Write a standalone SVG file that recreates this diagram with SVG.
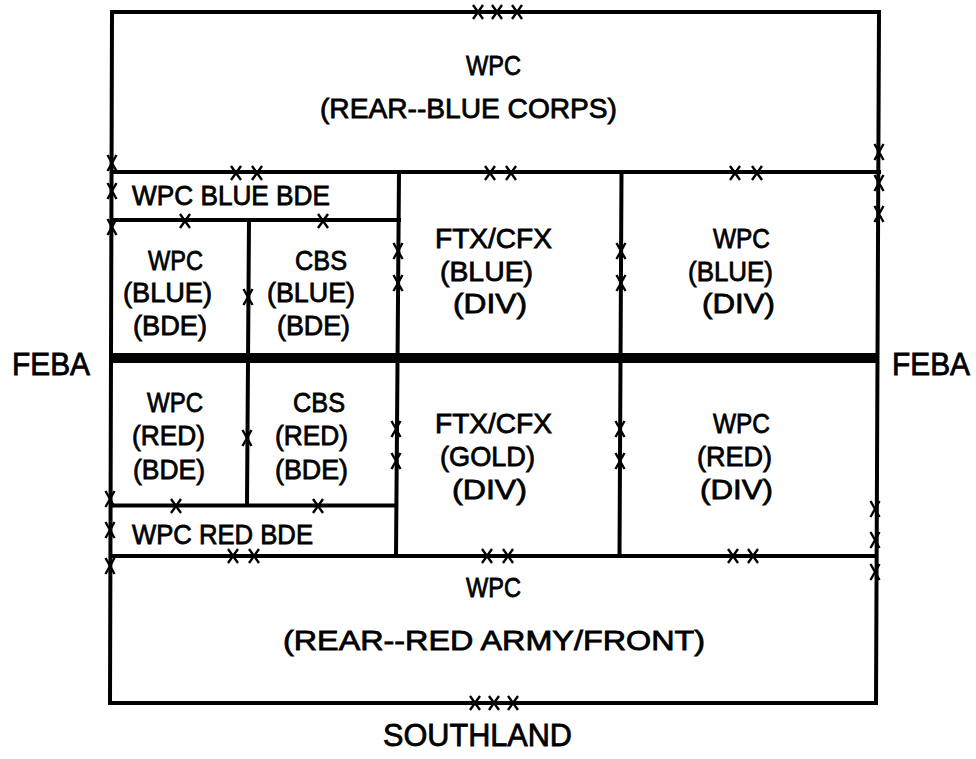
<svg xmlns="http://www.w3.org/2000/svg" xmlns:xlink="http://www.w3.org/1999/xlink" width="976" height="759" viewBox="0 0 976 759">
<style>
.ln{stroke:#000;stroke-width:4;fill:none;stroke-linecap:square}
.feba{stroke:#000;stroke-width:10;fill:none}
.mk{stroke:#000;stroke-width:2.4;fill:none}
text{font-family:"Liberation Sans",Arial,sans-serif;font-size:28px;fill:#000;stroke:#000;stroke-width:0.8}
.big{font-size:32px}
</style>
<defs>
<path id="xh" class="mk" d="M-5,-7 L5,7 M5,-7 L-5,7"/>
<path id="xv" class="mk" d="M-4.5,-8 L4.5,8 M4.5,-8 L-4.5,8"/>
</defs>
<rect width="976" height="759" fill="#fff"/>
<g id="lines">
<path class="ln" d="M112,12 L879,12 L876,703 L110,703 Z"/>
<path class="ln" d="M112,172 L879,172"/>
<path class="ln" d="M112,220 L399,220"/>
<path class="ln" d="M399,172 L396,556"/>
<path class="ln" d="M249,220 L247,505"/>
<path class="ln" d="M621.5,172 L619.5,556"/>
<path class="ln" d="M111,505.5 L396,505.5"/>
<path class="ln" d="M111,556 L876,556"/>
<path class="feba" d="M112,358 L877,358"/>
</g>
<g id="marks">
<use xlink:href="#xh" x="478" y="12"/><use xlink:href="#xh" x="497" y="12"/><use xlink:href="#xh" x="517" y="12"/>
<use xlink:href="#xh" x="236" y="173"/><use xlink:href="#xh" x="257" y="173"/>
<use xlink:href="#xh" x="490" y="173"/><use xlink:href="#xh" x="511" y="173"/>
<use xlink:href="#xh" x="735" y="173"/><use xlink:href="#xh" x="757" y="173"/>
<use xlink:href="#xh" x="185" y="221"/><use xlink:href="#xh" x="323" y="221"/>
<use xlink:href="#xh" x="176" y="506"/><use xlink:href="#xh" x="318" y="506"/>
<use xlink:href="#xh" x="233" y="556"/><use xlink:href="#xh" x="254" y="556"/>
<use xlink:href="#xh" x="487" y="556"/><use xlink:href="#xh" x="508" y="556"/>
<use xlink:href="#xh" x="733" y="556"/><use xlink:href="#xh" x="753" y="556"/>
<use xlink:href="#xh" x="475" y="703"/><use xlink:href="#xh" x="494" y="703"/><use xlink:href="#xh" x="513" y="703"/>
<use xlink:href="#xv" x="112" y="163"/><use xlink:href="#xv" x="112" y="191"/><use xlink:href="#xv" x="112" y="227"/>
<use xlink:href="#xv" x="110" y="499"/><use xlink:href="#xv" x="110" y="530"/><use xlink:href="#xv" x="110" y="566"/>
<use xlink:href="#xv" x="879" y="152"/><use xlink:href="#xv" x="879" y="183"/><use xlink:href="#xv" x="879" y="214"/>
<use xlink:href="#xv" x="875" y="509"/><use xlink:href="#xv" x="875" y="540"/><use xlink:href="#xv" x="875" y="572"/>
<use xlink:href="#xv" x="248" y="297"/><use xlink:href="#xv" x="247" y="438"/>
<use xlink:href="#xv" x="398" y="251"/><use xlink:href="#xv" x="398" y="283"/>
<use xlink:href="#xv" x="396" y="429"/><use xlink:href="#xv" x="396" y="461"/>
<use xlink:href="#xv" x="621" y="251"/><use xlink:href="#xv" x="621" y="283"/>
<use xlink:href="#xv" x="620" y="429"/><use xlink:href="#xv" x="620" y="461"/>
</g>
<g id="rear-blue-corps">
<text x="466" y="75" textLength="55" lengthAdjust="spacingAndGlyphs">WPC</text>
<text x="320" y="118" textLength="297" lengthAdjust="spacingAndGlyphs">(REAR--BLUE CORPS)</text>
</g>
<g id="wpc-blue-bde-strip">
<text x="132" y="205" textLength="198" lengthAdjust="spacingAndGlyphs">WPC BLUE BDE</text>
</g>
<g id="wpc-blue-bde">
<text x="148" y="270" textLength="55" lengthAdjust="spacingAndGlyphs">WPC</text>
<text x="123" y="302" textLength="89" lengthAdjust="spacingAndGlyphs">(BLUE)</text>
<text x="133" y="335" textLength="74" lengthAdjust="spacingAndGlyphs">(BDE)</text>
</g>
<g id="cbs-blue-bde">
<text x="295" y="270" textLength="52" lengthAdjust="spacingAndGlyphs">CBS</text>
<text x="267" y="302" textLength="88" lengthAdjust="spacingAndGlyphs">(BLUE)</text>
<text x="277" y="335" textLength="73" lengthAdjust="spacingAndGlyphs">(BDE)</text>
</g>
<g id="ftx-blue-div">
<text x="435" y="248" textLength="117" lengthAdjust="spacingAndGlyphs">FTX/CFX</text>
<text x="440" y="281" textLength="93" lengthAdjust="spacingAndGlyphs">(BLUE)</text>
<text x="453" y="313" textLength="74" lengthAdjust="spacingAndGlyphs">(DIV)</text>
</g>
<g id="wpc-blue-div">
<text x="713" y="248" textLength="57" lengthAdjust="spacingAndGlyphs">WPC</text>
<text x="688" y="281" textLength="85" lengthAdjust="spacingAndGlyphs">(BLUE)</text>
<text x="702" y="313" textLength="73" lengthAdjust="spacingAndGlyphs">(DIV)</text>
</g>
<g id="feba">
<text class="big" x="12" y="375" textLength="78" lengthAdjust="spacingAndGlyphs">FEBA</text>
<text class="big" x="892" y="375" textLength="78" lengthAdjust="spacingAndGlyphs">FEBA</text>
</g>
<g id="wpc-red-bde">
<text x="147" y="412" textLength="56" lengthAdjust="spacingAndGlyphs">WPC</text>
<text x="132" y="445" textLength="73" lengthAdjust="spacingAndGlyphs">(RED)</text>
<text x="133" y="479" textLength="72" lengthAdjust="spacingAndGlyphs">(BDE)</text>
</g>
<g id="cbs-red-bde">
<text x="293" y="412" textLength="52" lengthAdjust="spacingAndGlyphs">CBS</text>
<text x="275" y="445" textLength="73" lengthAdjust="spacingAndGlyphs">(RED)</text>
<text x="275" y="479" textLength="73" lengthAdjust="spacingAndGlyphs">(BDE)</text>
</g>
<g id="wpc-red-bde-strip">
<text x="132" y="544" textLength="181" lengthAdjust="spacingAndGlyphs">WPC RED BDE</text>
</g>
<g id="ftx-gold-div">
<text x="435" y="433" textLength="117" lengthAdjust="spacingAndGlyphs">FTX/CFX</text>
<text x="440" y="466" textLength="95" lengthAdjust="spacingAndGlyphs">(GOLD)</text>
<text x="452" y="499" textLength="75" lengthAdjust="spacingAndGlyphs">(DIV)</text>
</g>
<g id="wpc-red-div">
<text x="713" y="433" textLength="57" lengthAdjust="spacingAndGlyphs">WPC</text>
<text x="697" y="466" textLength="75" lengthAdjust="spacingAndGlyphs">(RED)</text>
<text x="700" y="499" textLength="73" lengthAdjust="spacingAndGlyphs">(DIV)</text>
</g>
<g id="rear-red-army">
<text x="466" y="597" textLength="55" lengthAdjust="spacingAndGlyphs">WPC</text>
<text x="283" y="650" textLength="422" lengthAdjust="spacingAndGlyphs">(REAR--RED ARMY/FRONT)</text>
</g>
<g id="southland">
<text class="big" x="383" y="746" textLength="189" lengthAdjust="spacingAndGlyphs">SOUTHLAND</text>
</g>
</svg>
